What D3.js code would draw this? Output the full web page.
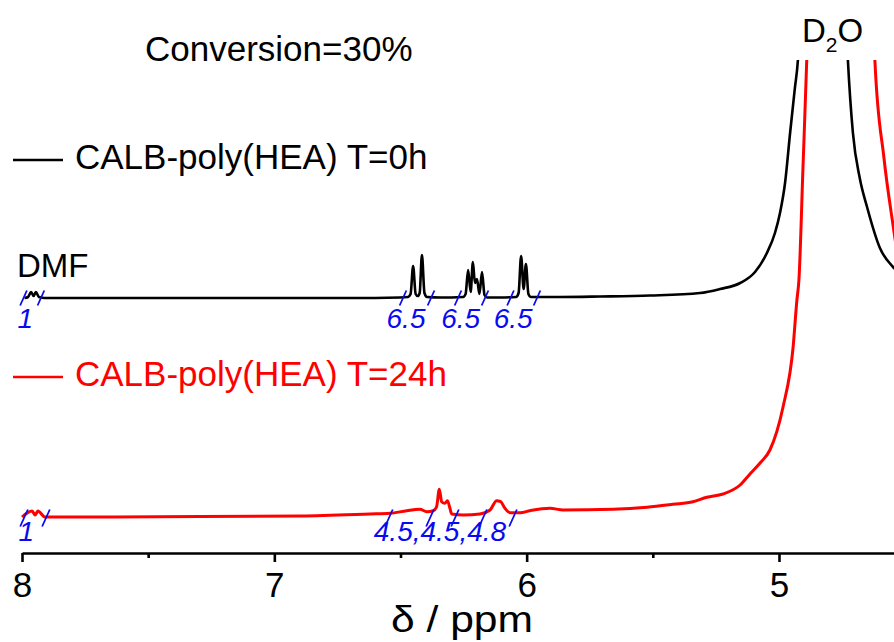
<!DOCTYPE html>
<html>
<head>
<meta charset="utf-8">
<script src="https://cdn.jsdelivr.net/npm/d3@7"></script>
<style>
  html, body { margin: 0; padding: 0; background: #fff; }
  svg { display: block; }
  text { font-family: "Liberation Sans", Arial, Helvetica, sans-serif; }
</style>
</head>
<body>
<script>
// ---- 1H NMR spectra (chemical shift in ppm, signal in arbitrary units above each trace's baseline)
const t0Shift = [7.990, 7.976, 7.964, 7.954, 7.945, 7.933, 7.909, 7.295, 6.700, 6.502,
  6.470, 6.460, 6.450, 6.440, 6.432, 6.424, 6.415, 6.405, 6.395, 6.343,
  6.252, 6.242, 6.232, 6.222, 6.213, 6.205, 6.197, 6.187, 6.177, 6.167, 6.157, 6.106,
  6.042, 6.032, 6.022, 6.012, 6.003, 5.993, 5.983, 5.868, 5.709, 5.511,
  5.313, 5.234, 5.154, 5.095, 5.048, 5.016, 4.996, 4.976, 4.956, 4.937, 4.925,
  4.909, 4.893, 4.870, 4.826, 4.782, 4.758, 4.743, 4.727, 4.707, 4.680, 4.651,
  4.600, 4.548, 4.500];
const t0Signal = [0, 1, 6, 2, 6, 1, 0, 0, 0, 0.5,
  1, 4, 32, 4, 2, 5, 43, 5, 1, 0.5,
  1, 4, 28, 6, 36, 15, 19, 4, 26, 3, 0.5, 0.5,
  1, 5, 42, 9, 34, 4, 1, 1, 1.5, 2.5,
  5, 9, 15, 26, 45, 65, 85, 115, 165, 210, 238,
  330, 480, 900, 3000, 900, 500, 330, 238, 165, 120, 91,
  50, 31, 22];

const t24Shift = [8.000, 7.960, 7.948, 7.937, 7.909, 7.691, 7.295, 6.898, 6.621, 6.542,
  6.475, 6.423, 6.396, 6.370, 6.357, 6.346, 6.337, 6.324, 6.314, 6.304, 6.297,
  6.251, 6.185, 6.145, 6.119, 6.103, 6.086, 6.066, 6.026, 5.987, 5.907, 5.856,
  5.657, 5.523, 5.420, 5.341, 5.286, 5.222, 5.154, 5.115, 5.075, 5.036,
  4.984, 4.944, 4.929, 4.921, 4.905, 4.890, 4.857, 4.754, 4.655, 4.620,
  4.584, 4.547, 4.500];
const t24Signal = [1, 7, 3, 7, 1, 1, 1.5, 2, 4, 4.7,
  7.3, 8.7, 6.3, 7.3, 11.3, 28.7, 16.3, 14.7, 17.3, 9.7, 4,
  3, 4, 8, 17.3, 16.3, 9.7, 5.3, 5.3, 7.3, 9.7, 8,
  8.7, 10.7, 13.7, 16.3, 20.7, 24, 33, 44, 55, 68,
  111, 171, 218, 238, 350, 458, 800, 3000, 800, 458,
  360, 291, 215];

// vertical offsets of the stacked traces
const traceOffsets = { t0: 255, t24: 35 };

// integration regions (ppm bounds) and their integral values, grouped by label
const t0Integrals = [
  [{ from: 7.994, to: 7.925, value: "1" }],
  [{ from: 6.490, to: 6.379, value: "6.5" }],
  [{ from: 6.272, to: 6.165, value: "6.5" }],
  [{ from: 6.064, to: 5.959, value: "6.5" }]
];
const t24Integrals = [
  [{ from: 7.992, to: 7.905, value: "1" }],
  [{ from: 6.546, to: 6.383, value: "4.5" },
   { from: 6.383, to: 6.284, value: "4.5" },
   { from: 6.173, to: 6.054, value: "4.8" }]
];

const majorTicks = [8, 7, 6, 5];
const minorTicks = [7.5, 6.5, 5.5];
const legendLabels = ["CALB-poly(HEA) T=0h", "CALB-poly(HEA) T=24h"];
const titleText = "Conversion=30%";
const axisTitle = "δ / ppm";

// ---- layout
const W = 894, H = 642;
const svg = d3.select("body").append("svg").attr("width", W).attr("height", H);
svg.append("rect").attr("width", W).attr("height", H).attr("fill", "#fff");

const x = d3.scaleLinear().domain([8, 4.5]).range([22, 22 + 3.5 * 252.33]);
const y = d3.scaleLinear().domain([0, 500]).range([553, 53]);

svg.append("defs").append("clipPath").attr("id", "plotClip")
  .append("rect").attr("x", 0).attr("y", 60).attr("width", W).attr("height", 493);

const BLUE = "#0a0af0", RED = "#ff0000";

function drawTrace(shift, signal, offset, color, width) {
  const pts = shift.map((s, i) => [s, signal[i] + offset]);
  const line = d3.line().x(d => x(d[0])).y(d => y(d[1])).curve(d3.curveMonotoneX);
  svg.append("path")
    .attr("clip-path", "url(#plotClip)")
    .attr("d", line(pts))
    .attr("fill", "none")
    .attr("stroke", color)
    .attr("stroke-width", width)
    .attr("stroke-linejoin", "round");
}

drawTrace(t0Shift, t0Signal, traceOffsets.t0, "#000", 2.6);
drawTrace(t24Shift, t24Signal, traceOffsets.t24, RED, 3);

// integral marks: slanted ticks at the region bounds, value label below
function drawIntegrals(groups, offset, tickHalf, labelDy) {
  const g = svg.append("g");
  const by = y(offset);
  groups.forEach(group => {
    const bounds = [];
    group.forEach(r => { bounds.push(r.from, r.to); });
    const uniq = Array.from(new Set(bounds));
    uniq.forEach(b => {
      const cx = x(b);
      g.append("line")
        .attr("x1", cx - tickHalf * 0.45).attr("y1", by + tickHalf)
        .attr("x2", cx + tickHalf * 0.45).attr("y2", by - tickHalf)
        .attr("stroke", BLUE).attr("stroke-width", 1.8);
    });
    const x0 = x(d3.max(bounds)), x1 = x(d3.min(bounds));
    const mid = (x0 + x1) / 2 - Math.min(11, 0.4 * (x1 - x0));
    g.append("text")
      .attr("x", mid).attr("y", by + labelDy)
      .attr("text-anchor", "middle")
      .attr("font-size", 28).attr("font-style", "italic")
      .attr("fill", BLUE)
      .text(group.map(r => r.value).join(","));
  });
}
drawIntegrals(t0Integrals, traceOffsets.t0, 7.5, 30);
drawIntegrals(t24Integrals, traceOffsets.t24, 8.5, 23);

// ---- x axis
const axisG = svg.append("g").attr("transform", `translate(0,${y(0)})`);
axisG.call(d3.axisBottom(x).tickValues(majorTicks).tickFormat(d3.format("d"))
  .tickSize(9).tickSizeOuter(0).tickPadding(10));
axisG.select(".domain").attr("stroke", "#000").attr("stroke-width", 2.6);
axisG.selectAll(".tick line").attr("stroke", "#000").attr("stroke-width", 2.6);
axisG.selectAll(".tick text").attr("font-size", 35).attr("fill", "#000")
  .attr("font-family", "'Liberation Sans', Arial, sans-serif");

const minorG = svg.append("g").attr("transform", `translate(0,${y(0)})`);
minorG.call(d3.axisBottom(x).tickValues(minorTicks).tickFormat("").tickSize(5).tickSizeOuter(0));
minorG.select(".domain").remove();
minorG.selectAll(".tick line").attr("stroke", "#000").attr("stroke-width", 2.6);

svg.append("text")
  .attr("x", 462).attr("y", 632)
  .attr("text-anchor", "middle")
  .attr("font-size", 36)
  .attr("textLength", 142)
  .attr("lengthAdjust", "spacingAndGlyphs")
  .text(axisTitle);

// ---- annotations
svg.append("text").attr("x", 145).attr("y", 61).attr("font-size", 35).text(titleText);

svg.append("text").attr("x", x(8.02)).attr("y", 277).attr("font-size", 33).text("DMF");

const d2o = svg.append("text").attr("x", 802).attr("y", 42).attr("font-size", 33);
d2o.append("tspan").text("D");
d2o.append("tspan").attr("font-size", 21).attr("dy", 10).text("2");
d2o.append("tspan").attr("dy", -10).text("O");

// ---- legend
const legend = [
  { label: legendLabels[0], color: "#000", y: 169 },
  { label: legendLabels[1], color: RED, y: 386 }
];
legend.forEach(d => {
  svg.append("line")
    .attr("x1", 13).attr("x2", 63).attr("y1", d.y - 9).attr("y2", d.y - 9)
    .attr("stroke", d.color).attr("stroke-width", 2.6);
  svg.append("text")
    .attr("x", 75).attr("y", d.y)
    .attr("font-size", 35).attr("fill", d.color)
    .text(d.label);
});
</script>
</body>
</html>
